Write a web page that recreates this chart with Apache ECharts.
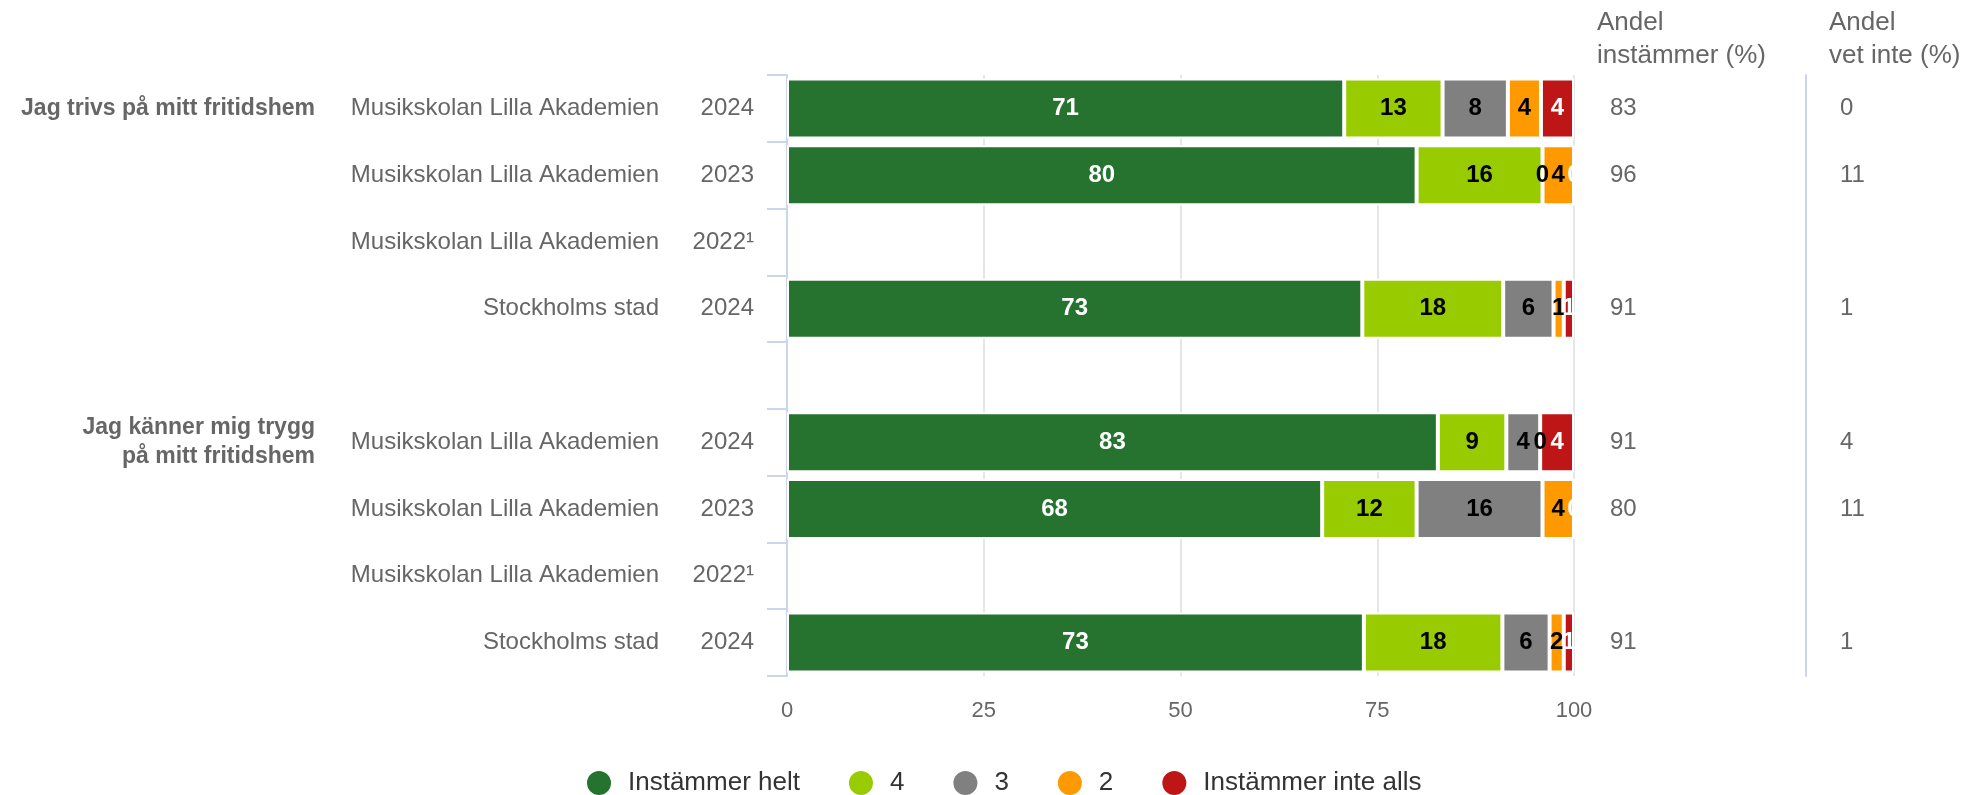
<!DOCTYPE html>
<html>
<head>
<meta charset="utf-8">
<script src="https://cdn.jsdelivr.net/npm/echarts@6/dist/echarts.min.js"></script>
<style>
  html, body { margin: 0; padding: 0; background: #fff; }
  #chart { width: 1972px; height: 795px; }
</style>
</head>
<body>
<div id="chart"></div>
<script>
// ---- Data ----
const rowGroups = ['Jag trivs på mitt fritidshem', '', '', '', '', 'Jag känner mig trygg\npå mitt fritidshem', '', '', ''];
const rowUnits = ['Musikskolan Lilla Akademien', 'Musikskolan Lilla Akademien', 'Musikskolan Lilla Akademien', 'Stockholms stad', '',
                  'Musikskolan Lilla Akademien', 'Musikskolan Lilla Akademien', 'Musikskolan Lilla Akademien', 'Stockholms stad'];
const rowYears = ['2024', '2023', '2022¹', '2024', '', '2024', '2023', '2022¹', '2024'];
const seriesNames = ['Instämmer helt', '4', '3', '2', 'Instämmer inte alls'];
const instammerHelt = [70.8, 80, null, 73.1, null, 82.7, 68, null, 73.3];
const fyra =          [12.5, 16, null, 17.9, null, 8.7, 12, null, 17.6];
const tre =           [8.3, 0, null, 6.4, null, 4.3, 16, null, 6.0];
const tva =           [4.2, 4, null, 1.3, null, 0, 4, null, 1.8];
const instammerInteAlls = [4.2, 0, null, 1.3, null, 4.3, 0, null, 1.3];
const andelInstammer = [83, 96, null, 91, null, 91, 80, null, 91];
const andelVetInte = [0, 11, null, 1, null, 4, 11, null, 1];
const xTicks = [0, 25, 50, 75, 100];

// ---- Styles ----
const FONT = "'Liberation Sans', Arial, Helvetica, sans-serif";
const colors = ['#267330', '#99cc00', '#808080', '#ff9900', '#be1616'];
const labelColors = ['#ffffff', '#000000', '#000000', '#000000', '#ffffff'];
const seriesData = [instammerHelt, fyra, tre, tva, instammerInteAlls];
const cats = rowYears.map((_, i) => String(i));

const chart = echarts.init(document.getElementById('chart'), null, { renderer: 'canvas' });

const baseCatAxis = {
  type: 'category',
  data: cats,
  inverse: true,
  axisLine: { show: false },
  axisTick: { show: false },
  splitLine: { show: false },
};

const option = {
  animation: false,
  backgroundColor: '#ffffff',
  title: [
    { text: 'Andel\ninstämmer (%)', left: 1597, top: 6, padding: 0,
      textStyle: { fontFamily: FONT, fontSize: 26, fontWeight: 'normal', color: '#666666', lineHeight: 33 } },
    { text: 'Andel\nvet inte (%)', left: 1829, top: 6, padding: 0,
      textStyle: { fontFamily: FONT, fontSize: 26, fontWeight: 'normal', color: '#666666', lineHeight: 33 } }
  ],
  legend: {
    data: seriesNames,
    left: 580,
    top: 764,
    icon: 'circle',
    itemWidth: 26,
    itemHeight: 26,
    itemGap: 47,
    selectedMode: false,
    textStyle: { fontFamily: FONT, fontSize: 26, color: '#333333', padding: [0, 0, 0, 11] }
  },
  grid: { left: 787, right: 398, top: 75, bottom: 119, containLabel: false },
  xAxis: {
    type: 'value',
    min: xTicks[0],
    max: xTicks[xTicks.length - 1],
    interval: 25,
    axisLine: { show: false },
    axisTick: { show: false },
    splitLine: { show: true, lineStyle: { color: '#e6e6e6', width: 2 } },
    axisLabel: { fontFamily: FONT, fontSize: 22, color: '#666666', margin: 24 }
  },
  yAxis: [
    Object.assign({}, baseCatAxis, {
      position: 'left',
      axisLine: { show: true, lineStyle: { color: '#ccd6eb', width: 2 } },
      axisTick: { show: true, length: 20, lineStyle: { color: '#ccd6eb', width: 2 } },
      axisLabel: { margin: 33, fontFamily: FONT, fontSize: 24, color: '#666666',
        formatter: (v) => rowYears[+v] }
    }),
    Object.assign({}, baseCatAxis, {
      position: 'left', offset: 95,
      axisLabel: { margin: 33, fontFamily: FONT, fontSize: 24, color: '#666666',
        formatter: (v) => rowUnits[+v] }
    }),
    Object.assign({}, baseCatAxis, {
      position: 'left', offset: 439,
      axisLabel: { margin: 33, fontFamily: FONT, fontSize: 23, fontWeight: 'bold', color: '#666666', lineHeight: 29,
        padding: [3, 0, 0, 0], align: 'right', formatter: (v) => rowGroups[+v] }
    }),
    Object.assign({}, baseCatAxis, {
      position: 'right', offset: 0,
      axisLabel: { margin: 36, fontFamily: FONT, fontSize: 24, color: '#666666',
        formatter: (v) => andelInstammer[+v] == null ? '' : String(andelInstammer[+v]) }
    }),
    Object.assign({}, baseCatAxis, {
      position: 'right', offset: 232,
      axisLine: { show: true, lineStyle: { color: '#ccd6eb', width: 2 } },
      axisLabel: { margin: 34, fontFamily: FONT, fontSize: 24, color: '#666666',
        formatter: (v) => andelVetInte[+v] == null ? '' : String(andelVetInte[+v]) }
    })
  ],
  series: seriesNames.map((name, si) => ({
    name: name,
    type: 'bar',
    stack: 'total',
    yAxisIndex: 0,
    barWidth: 60,
    data: seriesData[si],
    itemStyle: { color: colors[si], borderColor: '#ffffff', borderWidth: 2 },
    emphasis: { disabled: true },
    label: {
      show: true,
      position: 'inside',
      fontFamily: FONT,
      fontSize: 24,
      fontWeight: 'bold',
      color: labelColors[si],
      formatter: (p) => p.value == null ? '' : String(Math.round(p.value))
    }
  }))
};

chart.setOption(option);
</script>
</body>
</html>
